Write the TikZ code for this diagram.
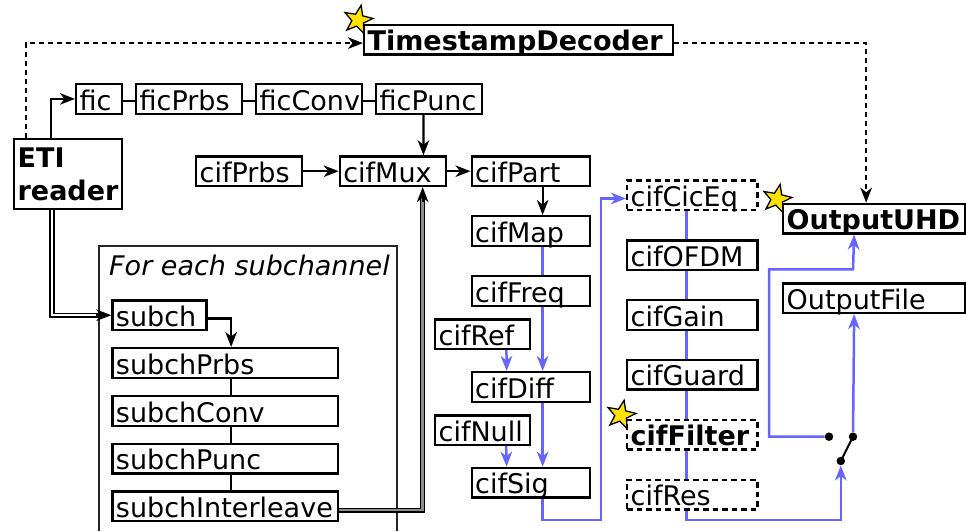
\documentclass[tikz,border=0pt]{standalone}
\usepackage{fontspec}
\setmainfont{DejaVu Sans}
\usetikzlibrary{arrows.meta,shapes.geometric}
\definecolor{bl}{RGB}{102,102,255}
\definecolor{stary}{RGB}{255,226,0}
\begin{document}
\begin{tikzpicture}[x=1pt,y=-1pt,
  >={Stealth[length=15pt,width=11.5pt,inset=4.5pt]},
  box/.style={draw, line width=2.3pt, anchor=north west, inner xsep=3.5pt, inner ysep=0pt,
    text height=26pt, text depth=3.5pt, align=left, font=\fontsize{27}{31}\selectfont},
  dbox/.style={box, dash pattern=on 5.5pt off 4pt},
  bbf/.style={font=\bfseries\fontsize{27}{31}\selectfont},
  ln/.style={line width=2.3pt},
  arr/.style={line width=2.3pt, ->},
  bln/.style={line width=2.5pt, color=bl},
  barr/.style={line width=2.5pt, color=bl, ->},
  dotln/.style={line width=2.3pt, dash pattern=on 5pt off 4pt},
  dbl/.style={double=white, double distance=2.4pt, line width=1.4pt},
  dblg/.style={double=black!45, double distance=2.4pt, line width=1.4pt},
  dot/.style={circle, fill=black, inner sep=0pt, minimum size=8.5pt},
  starn/.style={star, star points=5, star point ratio=2.4, minimum size=30pt, inner sep=0pt,
    draw, line width=1.3pt, fill=stary}]
\useasboundingbox (0,0) rectangle (966,531);

% group frame
\draw[line width=1.8pt, black!85] (99.3,531) -- (99.3,246) -- (396.7,246) -- (396.7,531);
\node[anchor=base west, inner sep=0pt, font=\itshape\fontsize{27}{31}\selectfont] (grp) at (109,275.5) {For each subchannel};

% nodes
\node[box,bbf,text width=302] (tsd) at (363,23.7) {TimestampDecoder};
\node[box,text width=39] (fic) at (75,83) {fic};
\node[box,text width=99] (ficPrbs) at (135,83) {ficPrbs};
\node[box,text width=99] (ficConv) at (255,83) {ficConv};
\node[box,text width=99] (ficPunc) at (375,83) {ficPunc};
\node[draw, line width=2.3pt, anchor=north west, inner xsep=3.5pt, inner ysep=0pt,
  minimum height=70pt, text width=101, align=left,
  font=\bfseries\fontsize{27}{33}\selectfont] (eti) at (13,138) {ETI\\reader};
\node[box,text width=99] (cifPrbs) at (195,155.3) {cifPrbs};
\node[box,text width=99.3] (cifMux) at (338.7,155.3) {cifMux};
\node[box,text width=111] (cifPart) at (470.5,155.3) {cifPart};
\node[box,text width=111] (cifMap) at (470.5,215) {cifMap};
\node[box,text width=111] (cifFreq) at (470.5,275) {cifFreq};
\node[box,text width=87.6] (cifRef) at (434,318.3) {cifRef};
\node[box,text width=111] (cifDiff) at (470.5,371) {cifDiff};
\node[box,text width=88] (cifNull) at (434,414.3) {cifNull};
\node[box,text width=111] (cifSig) at (470.5,466.7) {cifSig};
\node[dbox,text width=123.3] (cifCicEq) at (626,179.3) {cifCicEq};
\node[box,text width=123.3] (cifOFDM) at (626,239.3) {cifOFDM};
\node[box,text width=123.3] (cifGain) at (626,299) {cifGain};
\node[box,text width=123.3] (cifGuard) at (626,358.7) {cifGuard};
\node[dbox,bbf,text width=123.3] (cifFilter) at (626,418.7) {cifFilter};
\node[dbox,text width=123.3] (cifRes) at (626,478.7) {cifRes};
\node[box,bbf,text width=175] (outUHD) at (782,202.7) {OutputUHD};
\node[box,text width=175] (outFile) at (782,282.3) {OutputFile};
\node[box,text width=87] (subch) at (111.3,299.3) {subch};
\node[box,text width=218.7] (subchPrbs) at (111.3,347) {subchPrbs};
\node[box,text width=218.7] (subchConv) at (111.3,395) {subchConv};
\node[box,text width=218.7] (subchPunc) at (111.3,442.7) {subchPunc};
\node[box,text width=218.7] (subchInt) at (111.3,490.3) {subchInterleave};

% switch
\node[dot] (swLow) at (840.8,461) {};
\node[dot] (swUp) at (853,436.7) {};
\node[dot] (swLeft) at (829,436.7) {};

% connectors
\draw[dotln,->] ([xshift=13]eti.north west) |- ([yshift=-3.5]tsd.west);
\draw[dotln,->] ([yshift=-3.5]tsd.east) -| ([xshift=-8]outUHD.north);
\draw[arr] ([xshift=37.7]eti.north west) |- (fic.west);
\draw[ln] ([yshift=-2]fic.east) -- ([yshift=-2]ficPrbs.west);
\draw[ln] ([yshift=-2]ficPrbs.east) -- ([yshift=-2]ficConv.west);
\draw[ln] ([yshift=-2]ficConv.east) -- ([yshift=-2]ficPunc.west);
\draw[arr] ([xshift=-5.7]ficPunc.south) -- ([xshift=30.45]cifMux.north);
\draw[arr] (cifPrbs.east) -- (cifMux.west);
\draw[arr] (cifMux.east) -- (cifPart.west);
\draw[arr] ([xshift=12]cifPart.south) -- ([xshift=12]cifMap.north);
\draw[bln] ([xshift=12]cifMap.south) -- ([xshift=12]cifFreq.north);
\draw[barr] ([xshift=12]cifFreq.south) -- ([xshift=12]cifDiff.north);
\draw[barr] ([xshift=12]cifDiff.south) -- ([xshift=12]cifSig.north);
\draw[barr] ([xshift=24]cifRef.south) -- ([xshift=-24]cifDiff.north);
\draw[barr] ([xshift=23.5]cifNull.south) -- ([xshift=-24]cifSig.north);
\draw[barr] ([xshift=12]cifSig.south) |- (601,520) |- ([yshift=-3.3]cifCicEq.west);
\draw[bln] ([xshift=-6]cifCicEq.south) -- ([xshift=-6]cifOFDM.north);
\draw[bln] ([xshift=-6]cifOFDM.south) -- ([xshift=-6]cifGain.north);
\draw[bln] ([xshift=-6]cifGain.south) -- ([xshift=-6]cifGuard.north);
\draw[bln] ([xshift=-6]cifGuard.south) -- ([xshift=-6]cifFilter.north);
\draw[bln] ([xshift=-6]cifFilter.south) -- ([xshift=-6]cifRes.north);
\draw[barr] ([xshift=-6]cifRes.south) |- (840.8,520) -- (swLow);
\draw[line width=2pt] (swLow.center) -- (swUp.center);
\draw[barr] (swLeft) -- (769,436.7) |- (853,269.3) -- ([xshift=-20]outUHD.south);
\draw[barr] (swUp) -- ([xshift=-20]outFile.south);

\draw[dbl] ([xshift=39]eti.south west) |- ([xshift=-12]subch.west);
\draw[arr] ([xshift=-15]subch.west) -- (subch.west);
\draw[dblg] ([yshift=-4]subchInt.east) -| ([xshift=29.65,yshift=-12]cifMux.south);
\draw[arr] ([xshift=29.65,yshift=-15]cifMux.south) -- ([xshift=29.65]cifMux.south);
\draw[arr] ([yshift=-3.3]subch.east) -| ([xshift=5.85]subchPrbs.north);
\draw[ln] ([xshift=5.85]subchPrbs.south) -- ([xshift=5.85]subchConv.north);
\draw[ln] ([xshift=5.85]subchConv.south) -- ([xshift=5.85]subchPunc.north);
\draw[ln] ([xshift=5.85]subchPunc.south) -- ([xshift=5.85]subchInt.north);

% stars
\node[starn, rotate=-12] (star1) at (358,20) {};
\node[starn, rotate=-12] (star2) at (777,199) {};
\node[starn, rotate=-12] (star3) at (621,415) {};
\end{tikzpicture}
\end{document}
